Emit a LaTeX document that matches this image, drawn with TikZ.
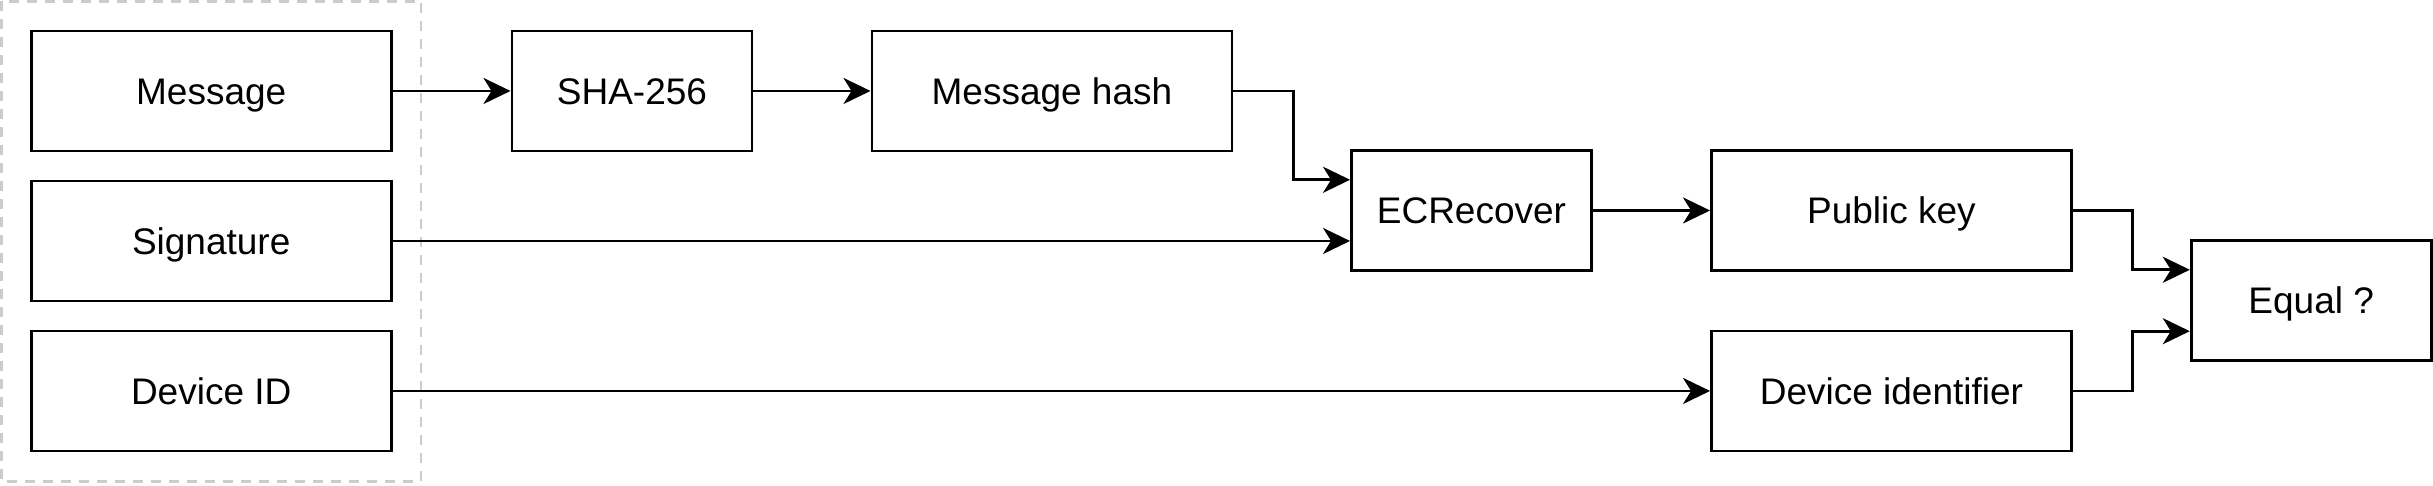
\documentclass[tikz,border=0pt]{standalone}
\usepackage{fontspec}
\setmainfont{Liberation Sans}
\usetikzlibrary{arrows.meta,calc}
\begin{document}
\begin{tikzpicture}[x=2.4pt,y=-2.4pt,
  box/.style={draw=black,line width=2.8pt,rectangle,inner sep=0pt,minimum height=120pt,
    text height=26.5pt,text depth=0pt,
    font=\fontsize{37}{44}\selectfont,text=black},
  wide/.style={box,minimum width=360pt},
  narrow/.style={box,minimum width=240pt},
  conn/.style={line width=2.8pt,-{Stealth[length=27pt,width=26pt,inset=8pt]}},
  group/.style={draw={rgb,255:red,204;green,204;blue,204},line width=2.8pt,dash pattern=on 9.5pt off 8.5pt}]
\useasboundingbox (0,0) rectangle (1013.75,202.5);
\draw[group] (0.55,0.5) rectangle (175.4,200.5);
\node[wide] (msg) at (88,37.9) {Message};
\node[wide] (sig) at (88,100.4) {Signature};
\node[wide] (dev) at (88,162.9) {Device ID};
\node[narrow] (sha) at (263.3,37.9) {SHA-256};
\node[wide] (hash) at (438.3,37.9) {Message hash};
\node[narrow] (ecr) at (613.1,87.7) {ECRecover};
\node[wide] (pub) at (788.1,87.7) {Public key};
\node[wide] (did) at (788.1,162.9) {Device identifier};
\node[narrow] (eq) at (963,125.2) {Equal ?};
\coordinate (ecrA) at ($(ecr.north west)!0.25!(ecr.south west)$);
\coordinate (eqA) at ($(eq.north west)!0.25!(eq.south west)$);
\coordinate (eqB) at ($(eq.north west)!0.75!(eq.south west)$);
\draw[conn] (msg.east) -- (sha.west);
\draw[conn] (sha.east) -- (hash.west);
\draw[conn] (hash.east) -- ++(25,0) |- (ecrA);
\draw[conn] (sig.east) -- (sig.east -| ecr.west);
\draw[conn] (ecr.east) -- (pub.west);
\draw[conn] (pub.east) -- ++(25,0) |- (eqA);
\draw[conn] (did.east) -- ++(25,0) |- (eqB);
\draw[conn] (dev.east) -- (did.west);
\end{tikzpicture}
\end{document}
